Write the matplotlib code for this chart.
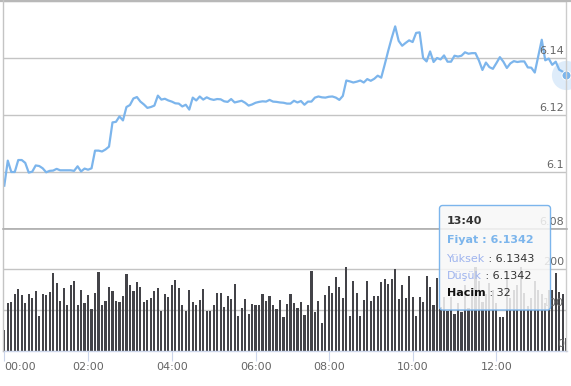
import matplotlib
matplotlib.use("Agg")
import matplotlib.pyplot as plt
import matplotlib.transforms as mtransforms
from matplotlib.patches import FancyBboxPatch
import numpy as np

plt.rcParams['font.family'] = ['DejaVu Sans']

# ---------------- data ----------------
price = [
    6.0952, 6.1040, 6.1000, 6.1000, 6.1042, 6.1042, 6.1032, 6.0998, 6.1001, 6.1023,
    6.1021, 6.1013, 6.0999, 6.1004, 6.1005, 6.1011, 6.1006, 6.1006, 6.1006, 6.1006,
    6.1004, 6.1020, 6.1002, 6.1012, 6.1008, 6.1013, 6.1075, 6.1075, 6.1072, 6.1079,
    6.1089, 6.1174, 6.1176, 6.1195, 6.1181, 6.1228, 6.1235, 6.1258, 6.1263, 6.1247,
    6.1237, 6.1225, 6.1228, 6.1233, 6.1268, 6.1254, 6.1257, 6.1251, 6.1247, 6.1241,
    6.1240, 6.1230, 6.1236, 6.1219, 6.1261, 6.1251, 6.1265, 6.1254, 6.1262, 6.1256,
    6.1253, 6.1256, 6.1255, 6.1248, 6.1246, 6.1256, 6.1244, 6.1247, 6.1250, 6.1243,
    6.1233, 6.1237, 6.1243, 6.1246, 6.1248, 6.1247, 6.1253, 6.1247, 6.1246, 6.1244,
    6.1243, 6.1240, 6.1240, 6.1250, 6.1244, 6.1249, 6.1236, 6.1247, 6.1247, 6.1261,
    6.1265, 6.1262, 6.1261, 6.1264, 6.1265, 6.1261, 6.1253, 6.1267, 6.1321, 6.1318,
    6.1314, 6.1317, 6.1321, 6.1314, 6.1326, 6.1320, 6.1327, 6.1338, 6.1331, 6.1377,
    6.1425, 6.1470, 6.1511, 6.1460, 6.1443, 6.1453, 6.1462, 6.1456, 6.1488, 6.1490,
    6.1400, 6.1388, 6.1423, 6.1386, 6.1400, 6.1395, 6.1409, 6.1387, 6.1387, 6.1408,
    6.1405, 6.1408, 6.1420, 6.1415, 6.1417, 6.1417, 6.1391, 6.1358, 6.1384, 6.1368,
    6.1362, 6.1382, 6.1403, 6.1387, 6.1365, 6.1381, 6.1389, 6.1386, 6.1388, 6.1388,
    6.1367, 6.1366, 6.1349, 6.1406, 6.1464, 6.1392, 6.1398, 6.1376, 6.1387, 6.1359,
    6.1352, 6.1342,
]

volume = [
    51, 117, 119, 139, 151, 136, 117, 139, 129, 146,
    85, 139, 136, 144, 190, 166, 122, 153, 112, 161,
    171, 112, 149, 117, 136, 102, 141, 193, 112, 122,
    156, 146, 122, 119, 134, 188, 161, 146, 168, 156,
    119, 124, 129, 146, 153, 97, 139, 131, 161, 173,
    153, 112, 97, 149, 119, 112, 124, 151, 97, 97,
    112, 141, 141, 107, 134, 127, 163, 85, 104, 127,
    90, 114, 112, 112, 139, 122, 134, 112, 102, 124,
    82, 114, 139, 117, 104, 119, 87, 112, 195, 95,
    122, 68, 136, 158, 141, 180, 156, 129, 205, 85,
    171, 141, 85, 124, 171, 122, 134, 134, 168, 176,
    163, 176, 200, 127, 161, 129, 183, 131, 85, 131,
    119, 183, 156, 112, 178, 108, 131, 97, 131, 90,
    116, 95, 160, 104, 150, 205, 170, 120, 140, 166,
    150, 118, 82, 82, 175, 130, 150, 160, 205, 141,
    110, 129, 170, 150, 140, 118, 150, 150, 191, 145,
    140, 32,
]

tick_index = [0, 24, 48, 72, 93, 117, 141]
tick_labels = ["00:00", "02:00", "04:00", "06:00", "08:00", "10:00", "12:00"]

price_ticks = [6.08, 6.10, 6.12, 6.14, 6.16]
price_tick_labels = ["6.08", "6.1", "6.12", "6.14", ""]
vol_ticks = [0, 100, 200, 300]
vol_tick_labels = ["0", "100", "200", ""]

tip_time = "13:40"
tip_label_price = "Fiyat"
tip_label_high = "Yüksek"
tip_label_low = "Düşük"
tip_label_vol = "Hacim"
tip_high = "6.1343"
tip_low = "6.1342"

# ---------------- layout ----------------
W, H = 571, 386
fig = plt.figure(figsize=(W / 100, H / 100), dpi=100)
fig.patch.set_facecolor("white")

def fbox(x0, y0, x1, y1):
    return [x0 / W, 1 - y1 / H, (x1 - x0) / W, (y1 - y0) / H]

x_left_px, x_right_px = 2.7, 567.0
step = 3.49
x0_px = 4.3
xlim = ((x_left_px - x0_px) / step, (x_right_px - x0_px) / step)

ax_p = fig.add_axes(fbox(x_left_px, 1, x_right_px, 229))
ax_v = fig.add_axes(fbox(x_left_px, 228, x_right_px, 351))

grid_c = "#c4c4c4"
label_c = "#666666"
line_c = "#7cb5ec"
bar_c = "#434348"
axis_c = "#ccd6eb"

idx = np.arange(len(price))

for ax in (ax_p, ax_v):
    ax.set_xlim(*xlim)
    ax.set_facecolor("none")
    for s in ax.spines.values():
        s.set_visible(False)
    ax.tick_params(axis="y", length=0, labelleft=False, labelright=False)

# price panel
ax_p.set_ylim(6.08, 6.16)
ax_p.set_yticks(price_ticks)
ax_p.grid(axis="y", color=grid_c, linewidth=1.0)
ax_p.set_xticks([])
ax_p.plot(idx, price, color=line_c, linewidth=1.6, solid_joinstyle="round", zorder=3)
ax_p.plot([idx[-1]], [price[-1]], "o", markersize=21, color=line_c, alpha=0.25,
          markeredgewidth=0, clip_on=False, zorder=4)
ax_p.plot([idx[-1]], [price[-1]], "o", markersize=6.5, color=line_c,
          markeredgecolor="white", markeredgewidth=0.7, clip_on=False, zorder=5)

off = mtransforms.ScaledTranslation(-3 / 100, 2 / 100, fig.dpi_scale_trans)
tr_p = mtransforms.blended_transform_factory(ax_p.transAxes, ax_p.transData) + off
for v, lab in zip(price_ticks, price_tick_labels):
    if lab:
        ax_p.text(1, v, lab, transform=tr_p, ha="right", va="bottom",
                  fontsize=8, color=label_c, zorder=6)

# volume panel
ax_v.set_ylim(0, 300)
ax_v.set_yticks(vol_ticks)
ax_v.grid(axis="y", color=grid_c, linewidth=1.0)
ax_v.set_axisbelow(True)
ax_v.bar(idx, volume, width=0.62, color=bar_c, zorder=2)
tr_v = mtransforms.blended_transform_factory(ax_v.transAxes, ax_v.transData) + off
for v, lab in zip(vol_ticks, vol_tick_labels):
    if lab:
        ax_v.text(1, v, lab, transform=tr_v, ha="right", va="bottom",
                  fontsize=8, color=label_c, zorder=6)

ax_v.spines["bottom"].set_visible(True)
ax_v.spines["bottom"].set_color(axis_c)
ax_v.spines["bottom"].set_linewidth(1.0)
ax_v.set_xticks(tick_index)
ax_v.set_xticklabels(tick_labels)
ax_v.tick_params(axis="x", length=7.2, width=0.8, color=axis_c, labelsize=8,
                 labelcolor=label_c, pad=1.0)
ax_v.get_xticklabels()[0].set_horizontalalignment("left")

# frame lines: top, left, crosshair (figure overlay)
ov = fig.add_axes([0, 0, 1, 1])
ov.set_xlim(0, W)
ov.set_ylim(H, 0)
ov.axis("off")
ov.patch.set_alpha(0)
ov.plot([0, W], [0.8, 0.8], color="#b8b8b8", linewidth=1.6)
ov.plot([x_left_px, x_left_px], [0, 351], color=grid_c, linewidth=1.0)
ov.plot([x_left_px, x_right_px], [228.6, 228.6], color="#b0b0b0", linewidth=1.2)

# crosshair at last point (data-driven x)
cx_disp = ax_p.transData.transform((idx[-1], 6.1))[0]
ov.axvline(cx_disp * W / fig.bbox.width, ymin=(H - 351) / H, ymax=1, color="#cccccc",
           linewidth=1.0, zorder=1)

# ---------------- tooltip ----------------
tb = FancyBboxPatch((439.5, 205.5), 111, 104.5, boxstyle="round,pad=0,rounding_size=3",
                    facecolor=(0.97, 0.97, 0.97, 0.85), edgecolor=line_c, linewidth=1.0,
                    zorder=10)
ov.add_patch(tb)

renderer = fig.canvas.get_renderer()

def pieces(x, y, parts):
    for s, color, weight in parts:
        t = ov.text(x, y, s, color=color, fontweight=weight, fontsize=8,
                    ha="left", va="center", zorder=11)
        bb = t.get_window_extent(renderer)
        x = x + bb.width * W / fig.bbox.width

tx = 447
pieces(tx, 221.5, [(tip_time, "#333333", "bold")])
pieces(tx, 240, [(f"{tip_label_price} : {price[-1]:.4f}", line_c, "bold")])
pieces(tx, 258.5, [(tip_label_high, "#9fb4ee", "normal"), (f" : {tip_high}", "#333333", "normal")])
pieces(tx, 276, [(tip_label_low, "#9fb4ee", "normal"), (f" : {tip_low}", "#333333", "normal")])
pieces(tx, 293.5, [(tip_label_vol, "#111111", "bold"), (f" : {volume[-1]}", "#333333", "normal")])

fig.savefig("out.png", dpi=100)
